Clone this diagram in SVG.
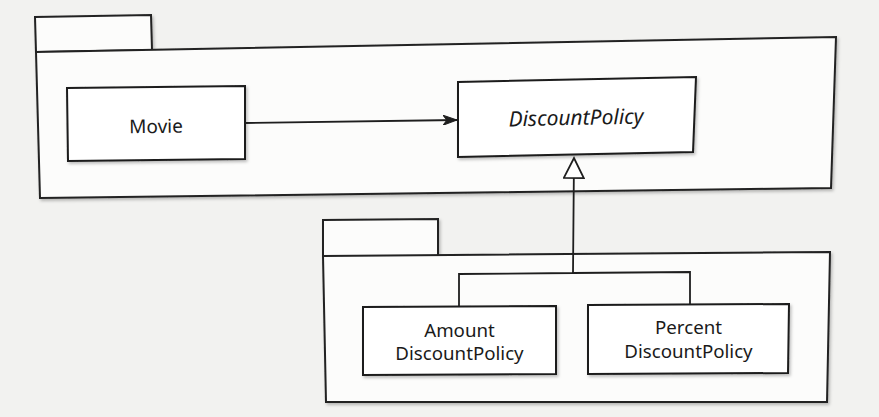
<svg xmlns="http://www.w3.org/2000/svg" width="879" height="417" viewBox="0 0 879 417">
<defs>
<style>
.pkg{fill:#fcfcfb;stroke:#222;stroke-width:2;stroke-linejoin:miter}
.cls{fill:#ffffff;stroke:#1c1c1c;stroke-width:2}
.t{font-family:"Noto Sans","Open Sans",sans-serif;font-size:18.7px;fill:#1a1a1a;text-anchor:middle}
.big{font-size:19px}
.it{font-style:italic;font-size:21px}
.ln{fill:none;stroke:#1e1e1e;stroke-width:1.8}
</style>
<filter id="sh" x="-5%" y="-5%" width="115%" height="120%">
<feDropShadow dx="1.5" dy="2" stdDeviation="1.5" flood-color="#000" flood-opacity="0.25"/>
</filter>
<marker id="open" viewBox="0 0 14 10" refX="14" refY="5" markerWidth="14" markerHeight="10" markerUnits="userSpaceOnUse" orient="auto">
<path d="M0,0 L14,5 L0,10 L4,5 Z" fill="#1e1e1e" stroke="#1e1e1e" stroke-width="1"/>
</marker>
<marker id="tri" viewBox="0 0 24 22" refX="21" refY="11" markerWidth="24" markerHeight="22" markerUnits="userSpaceOnUse" orient="auto">
<path d="M1,1 L21,11 L1,21 Z" fill="#fff" stroke="#1e1e1e" stroke-width="1.8"/>
</marker>
</defs>
<rect width="879" height="417" fill="#f2f2f0"/>
<g id="pkg-top" filter="url(#sh)">
<polygon class="pkg" points="35,17 151,15 152,50 36,52"/>
<polygon class="pkg" points="36,52 836,37 831,188 40,198"/>
</g>
<g id="pkg-bottom" filter="url(#sh)">
<polygon class="pkg" points="323,220 438,219 438,256 323,256"/>
<polygon class="pkg" points="323,256 830,252 827,402 326,402"/>
</g>
<g id="movie">
<polygon class="cls" filter="url(#sh)" points="67,88 245,86 245,159 68,161"/>
<text class="t big" x="156" y="133" transform="rotate(-0.8 156 126)">Movie</text>
</g>
<g id="discountpolicy">
<polygon class="cls" filter="url(#sh)" points="458,82 696,77 693,152 458,157"/>
<text class="t it" x="576" y="125" transform="rotate(-1.2 576 118)">DiscountPolicy</text>
</g>
<g id="amount">
<polygon class="cls" filter="url(#sh)" points="363,307 556,306 556,374 363,375"/>
<text class="t" x="459.5" y="337">Amount</text>
<text class="t" x="459.5" y="360">DiscountPolicy</text>
</g>
<g id="percent">
<polygon class="cls" filter="url(#sh)" points="588,305 789,304 788,373 588,374"/>
<text class="t" x="688.5" y="334">Percent</text>
<text class="t" x="688.5" y="358">DiscountPolicy</text>
</g>
<g id="connectors">
<line class="ln" x1="245" y1="123" x2="457" y2="120" marker-end="url(#open)"/>
<polyline class="ln" points="459,307 459,274 573,273 574,158" marker-end="url(#tri)"/>
<polyline class="ln" points="690,304 690,272 573,273"/>
</g>
</svg>
